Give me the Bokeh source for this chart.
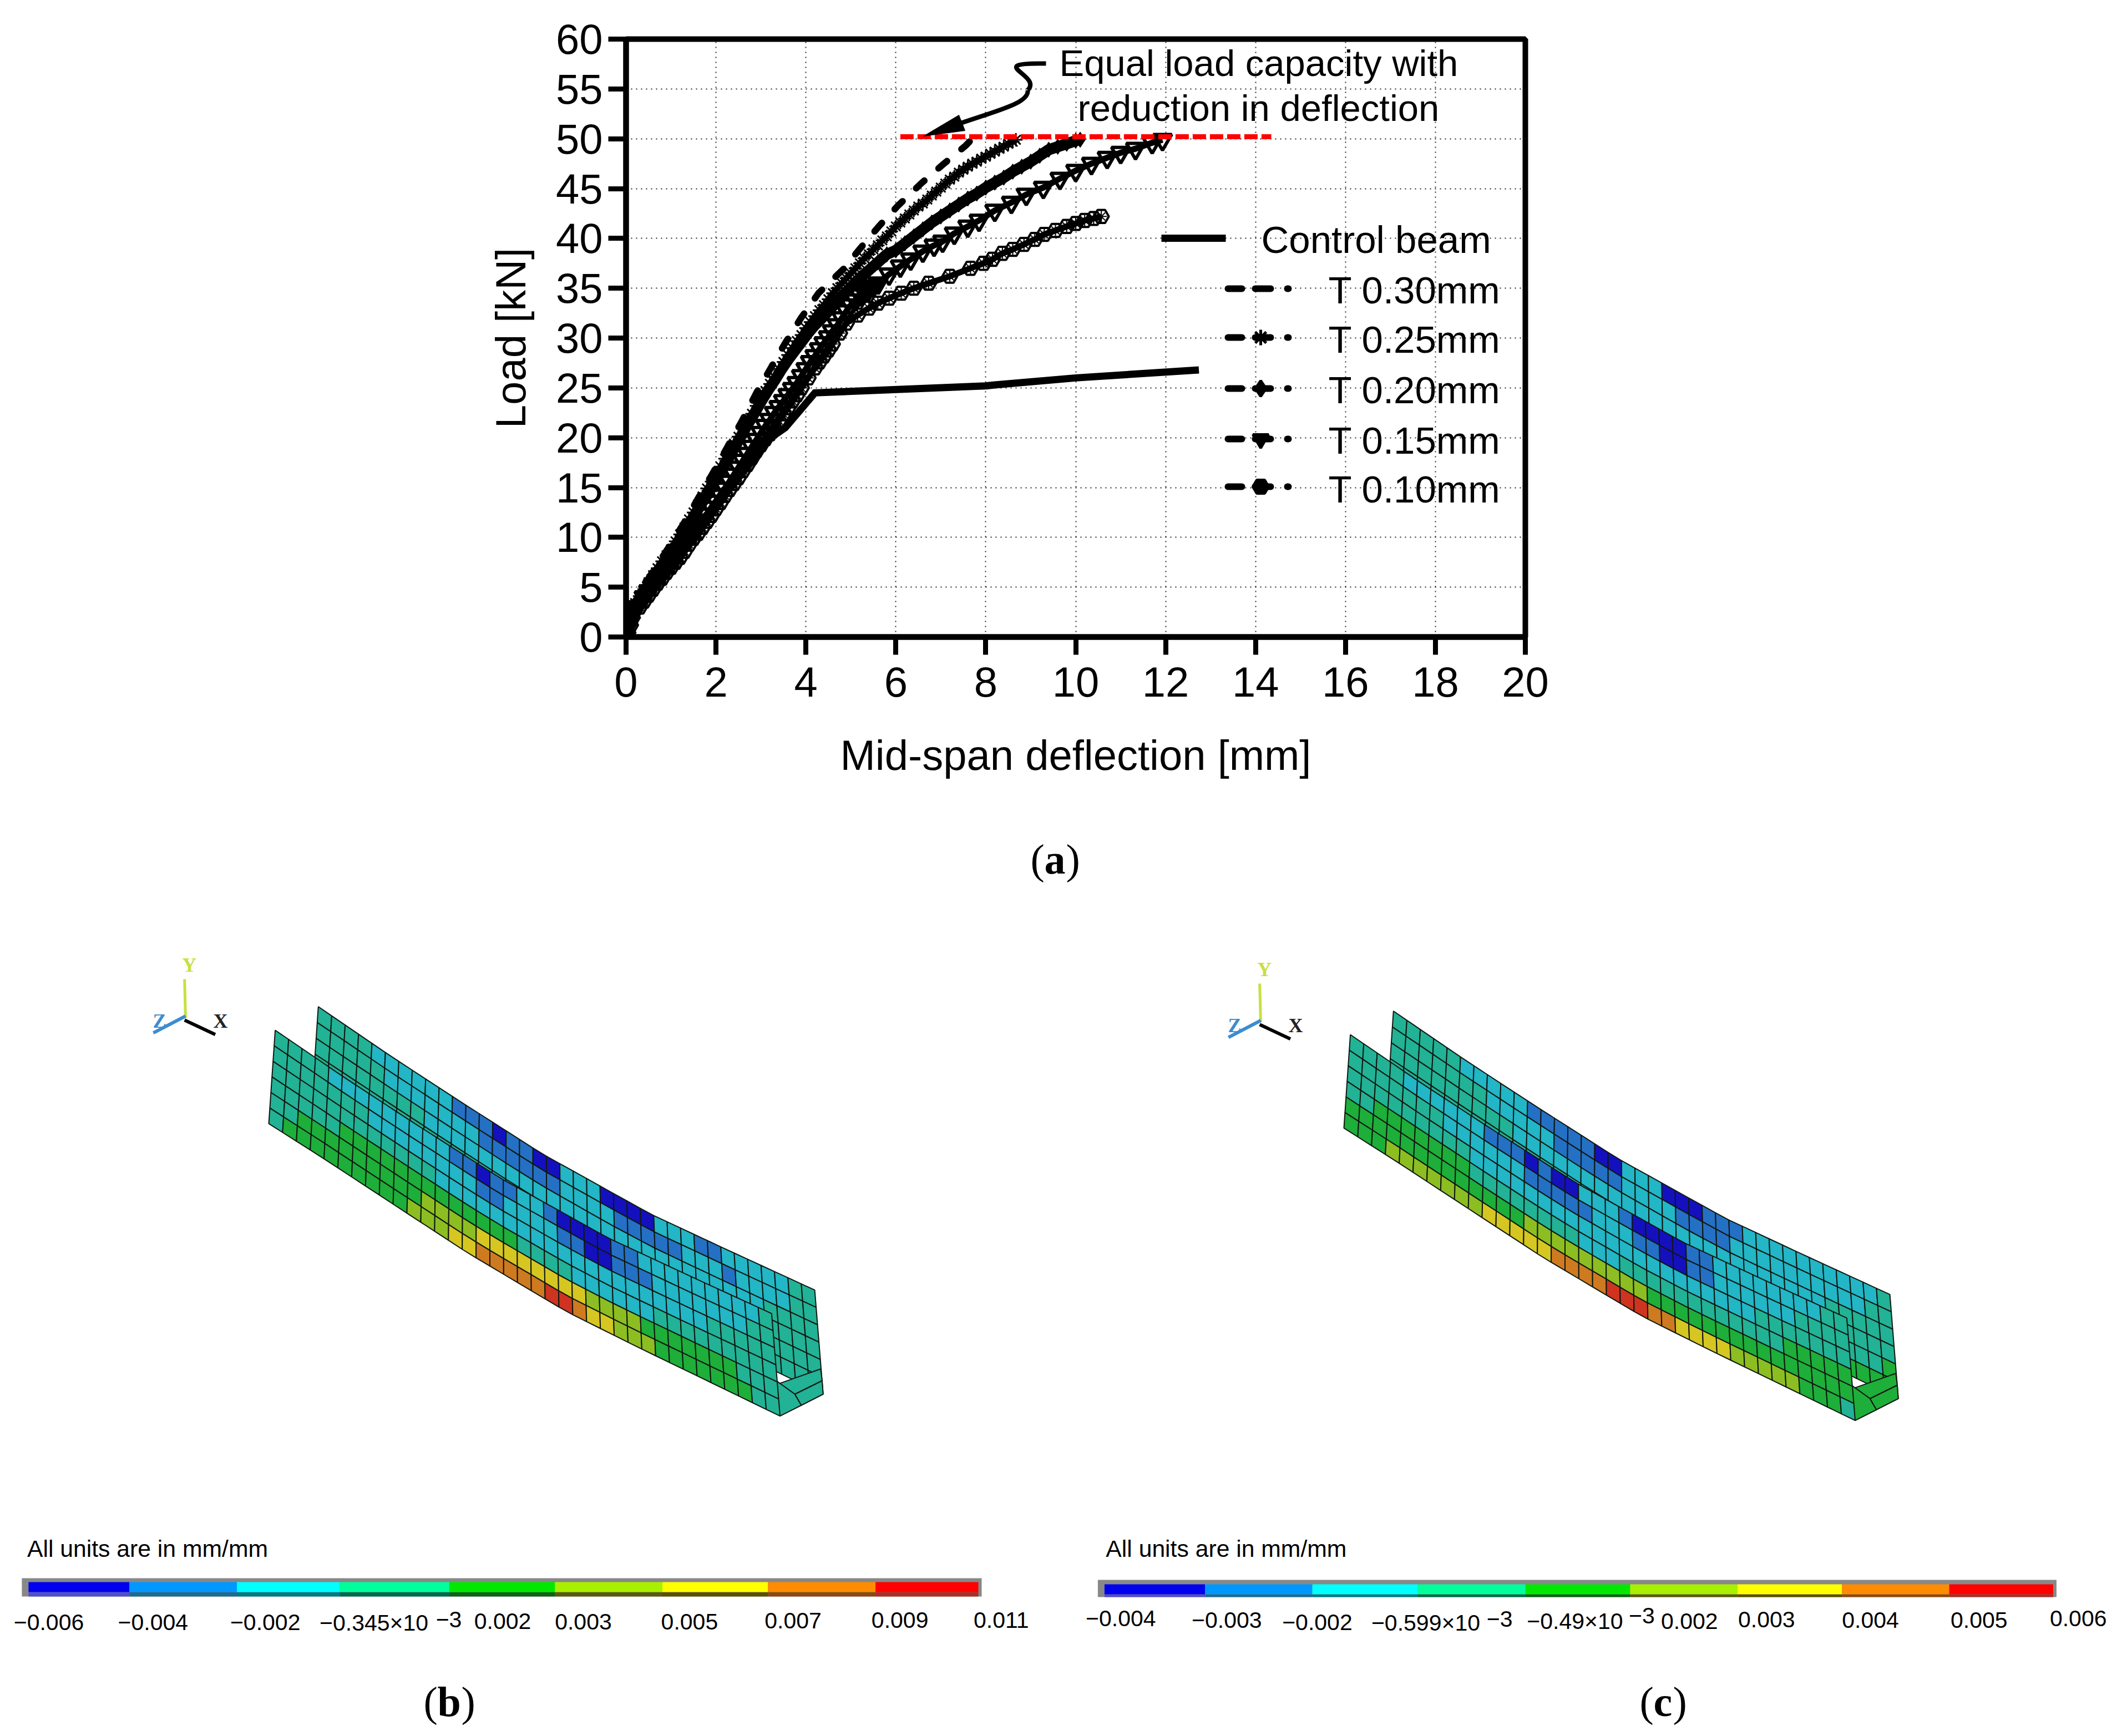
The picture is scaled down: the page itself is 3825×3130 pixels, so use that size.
from bokeh.plotting import figure
from bokeh.layouts import column
from bokeh.models import Range1d, FixedTicker
from bokeh.core.properties import value
from bokeh.embed import file_html
from bokeh.resources import INLINE
import numpy as np

# ---- panel (a) data ----
control_x = [0, .1, .3, .65, 1.35, 2.33, 3.22, 3.54, 4.2, 8.0, 8.2, 10.0, 12.74]
control_y = [0, 1.5, 3.4, 5.2, 10, 15, 20, 21, 24.5, 25.2, 25.3, 26, 26.8]

t30_x = [0, .1, .3, .92, 1.27, 1.6, 1.95, 2.27, 2.58, 2.9, 3.22, 3.54, 3.89, 4.28, 4.83, 5.19, 5.62, 6.05, 6.56, 7.07, 7.55, 7.7]
t30_y = [0, 2, 4.5, 8.8, 11.3, 13.9, 16.6, 19.2, 21.7, 24.5, 27, 29.5, 32, 34.5, 36.9, 38.9, 41.2, 43.3, 45.5, 47.5, 49.3, 50]

t25_x = [0, .05, .1, .2, .3, .4, .5, .6, .7, .8, .9, 1, 1.1, 1.2, 1.3, 1.4, 1.5, 1.6, 1.7, 1.8, 1.9, 2, 2.1, 2.2, 2.3, 2.4, 2.5, 2.6, 2.7, 2.8, 2.9, 3, 3.1, 3.2, 3.3, 3.4, 3.5, 3.6, 3.7, 3.8, 3.9, 4, 4.1, 4.2, 4.3, 4.4, 4.5, 4.6, 4.7, 4.8, 4.9, 5, 5.1, 5.2, 5.3, 5.4, 5.5, 5.6, 5.7, 5.8, 5.9, 6, 6.1, 6.2, 6.3, 6.4, 6.5, 6.6, 6.7, 6.8, 6.9, 7, 7.1, 7.2, 7.3, 7.4, 7.5, 7.6, 7.7, 7.8, 7.9, 8, 8.1, 8.2, 8.3, 8.4, 8.5, 8.6, 8.67]
t25_y = [0, 1.2, 2.2, 3.4, 4.1, 4.8, 5.5, 6.2, 6.9, 7.6, 8.2, 8.8, 9.6, 10.3, 11, 11.8, 12.5, 13.3, 14.1, 14.9, 15.6, 16.3, 17.1, 17.9, 18.6, 19.4, 20.1, 20.9, 21.7, 22.4, 23.2, 23.9, 24.7, 25.4, 26.1, 26.9, 27.6, 28.3, 29, 29.7, 30.3, 31, 31.6, 32.2, 32.8, 33.3, 33.9, 34.5, 35, 35.5, 36, 36.5, 37, 37.5, 38, 38.4, 38.9, 39.3, 39.8, 40.2, 40.7, 41.2, 41.6, 42, 42.4, 42.8, 43.2, 43.5, 43.9, 44.3, 44.7, 45.1, 45.5, 45.9, 46.2, 46.6, 46.9, 47.2, 47.5, 47.7, 48, 48.2, 48.5, 48.7, 49, 49.2, 49.5, 49.7, 49.9]

t20_x = [0, .1, .2, .35, .5, .65, .8, 1, 1.15, 1.3, 1.5, 1.65, 1.8, 2, 2.15, 2.3, 2.5, 2.7, 2.85, 3, 3.15, 3.3, 3.45, 3.6, 3.75, 3.9, 4.05, 4.2, 4.4, 4.6, 4.8, 5, 5.2, 5.4, 5.6, 5.8, 6, 6.2, 6.4, 6.6, 6.8, 7, 7.2, 7.4, 7.6, 7.8, 8, 8.2, 8.4, 8.6, 8.8, 9, 9.2, 9.4, 9.6, 9.8, 10, 10.1]
t20_y = [0, 1.8, 3.2, 4.2, 5.3, 6.3, 7.2, 8.4, 9.5, 10.7, 12, 13.2, 14.2, 15.8, 16.9, 18.1, 19.7, 21.3, 22.4, 23.6, 24.7, 25.7, 26.8, 27.8, 28.7, 29.6, 30.5, 31.3, 32.2, 33.2, 34.2, 35.1, 36, 36.8, 37.6, 38.4, 38.8, 39.5, 40.2, 40.9, 41.6, 42.2, 42.8, 43.4, 44, 44.5, 45.1, 45.6, 46.1, 46.7, 47.2, 47.7, 48.3, 48.9, 49.2, 49.5, 49.8, 49.9]

t15_x = [0, .1, .25, .4, .5, .6, .7, .8, .9, 1, 1.1, 1.2, 1.3, 1.4, 1.5, 1.6, 1.7, 1.8, 1.9, 2, 2.1, 2.2, 2.3, 2.4, 2.5, 2.6, 2.7, 2.8, 2.9, 3, 3.1, 3.2, 3.3, 3.4, 3.5, 3.6, 3.7, 3.8, 3.9, 4, 4.1, 4.2, 4.3, 4.4, 4.5, 4.59, 4.7, 4.8, 4.9, 5, 5.1, 5.2, 5.3, 5.4, 5.5, 5.61, 5.85, 6.1, 6.33, 6.6, 6.85, 7.04, 7.3, 7.6, 7.85, 8.2, 8.57, 8.9, 9.28, 9.65, 10, 10.35, 10.7, 11, 11.33, 11.7, 11.93]
t15_y = [0, 1.5, 3, 4, 4.6, 5.2, 5.8, 6.3, 6.9, 7.4, 8, 8.6, 9.3, 9.9, 10.5, 11, 11.7, 12.3, 13, 13.6, 14.2, 14.9, 15.6, 16.3, 17, 17.7, 18.4, 19.1, 19.8, 20.5, 21.2, 21.8, 22.5, 23.1, 23.7, 24.3, 24.9, 25.5, 26.2, 26.9, 27.6, 28.2, 28.9, 29.5, 30.1, 30.7, 31.3, 32, 32.7, 33.3, 33.8, 34.3, 34.6, 34.9, 35.2, 35.5, 36.4, 37.2, 37.9, 38.7, 39.3, 39.7, 40.5, 41.2, 41.8, 42.8, 43.6, 44.4, 45.1, 46, 46.8, 47.5, 48.1, 48.6, 49, 49.6, 49.9]

t10_x = [0, .1, .3, .4, .5, .6, .7, .8, .9, 1, 1.1, 1.2, 1.3, 1.4, 1.5, 1.6, 1.7, 1.8, 1.9, 2, 2.1, 2.2, 2.3, 2.4, 2.5, 2.6, 2.7, 2.8, 2.9, 3, 3.1, 3.2, 3.3, 3.4, 3.5, 3.6, 3.7, 3.8, 3.9, 4.05, 4.2, 4.3, 4.4, 4.5, 4.59, 4.75, 4.9, 5.15, 5.4, 5.6, 5.85, 6.12, 6.4, 6.73, 7.2, 7.66, 7.95, 8.15, 8.37, 8.6, 8.85, 9.09, 9.3, 9.55, 9.8, 10, 10.2, 10.4, 10.57]
t10_y = [0, 1.2, 3, 3.6, 4.2, 4.8, 5.4, 5.9, 6.5, 7, 7.5, 8, 8.6, 9.3, 9.9, 10.4, 11, 11.6, 12.2, 12.9, 13.5, 14.2, 14.8, 15.4, 16, 16.7, 17.3, 18, 18.7, 19.3, 19.9, 20.4, 21, 21.7, 22.4, 23, 23.7, 24.3, 25, 26, 27, 27.6, 28.2, 28.8, 29.4, 30.5, 31.5, 32.3, 33, 33.5, 34, 34.5, 35, 35.5, 36.2, 37, 37.5, 37.9, 38.5, 38.9, 39.4, 39.9, 40.4, 40.8, 41.2, 41.5, 41.8, 42, 42.2]

red_x = [6.1, 14.35]
red_y = [50.2, 50.2]

x_ticks = list(range(0, 21, 2))
y_ticks = list(range(0, 61, 5))
legend_names = ["T 0.30mm", "T 0.25mm", "T 0.20mm", "T 0.15mm", "T 0.10mm"]

# ---- panels (b), (c): colour bar and mesh bands ----
band_fill = ["#0000EE", "#0098FF", "#00FFFF", "#00FF9C", "#00E800", "#A8F000", "#FFFF00", "#FF8C00", "#FF0000"]
band_dark = ["#5050CC", "#1C6C90", "#007C84", "#006A4C", "#0A6414", "#5A5A10", "#5A5000", "#8A4A10", "#A83028"]
mesh_fill = ["#1410BE", "#2470C4", "#22B6C6", "#22B296", "#1EAE3A", "#8CBE22", "#D6C622", "#CE7A20", "#CE3420"]

labels_b = ["\u22120.006", "\u22120.004", "\u22120.002", "\u22120.345\u00d710", "0.002", "0.003", "0.005", "0.007", "0.009", "0.011"]
labels_b_left = [20, 175, 342, 475, 705, 825, 983, 1137, 1296, 1448]
labels_b_base = [590, 590, 592, 595, 585, 587, 587, 583, 578, 580]
edges_b = [42, 192, 352, 505, 668, 825, 985, 1142, 1302, 1455]

labels_c = ["\u22120.004", "\u22120.003", "\u22120.002", "\u22120.599\u00d710", "\u22120.49\u00d710", "0.002", "0.003", "0.004", "0.005", "0.006"]
labels_c_left = [22, 180, 315, 448, 680, 880, 995, 1150, 1312, 1460]
labels_c_base = [570, 578, 592, 595, 585, 585, 577, 580, 578, 570]
edges_c = [50, 200, 360, 517, 678, 834, 994, 1150, 1310, 1465]

back_b = [
    "3333222222" "1110110022" "2000022211" "2222233",
    "3333322222" "2211111122" "2211111222" "1222233",
    "3333333322" "2222222222" "2222222222" "2223333",
    "3333333333" "3332222222" "2222222222" "2233333",
    "3333333333" "3333333333" "3322222222" "3333333",
    "3333333333" "3333333333" "3333333333" "3333333",
]
front_b = [
    "3333222222" "2221101122" "1000011222" "2222223",
    "3333333222" "2222211222" "2110011122" "2222233",
    "3333333333" "3322222222" "2222222222" "2233333",
    "3333344444" "4444444433" "3322222233" "3333333",
    "3344444444" "4555566666" "6665555444" "4444333",
    "3444444444" "5556677777" "8876655544" "4444433",
]
back_c = [
    "3333322222" "1111100222" "0001112222" "2222223",
    "3333333222" "2211111222" "2111122222" "2222233",
    "3333333332" "2222222222" "2222222222" "2233333",
    "3333333333" "3332222222" "2222222222" "3333333",
    "3333333333" "3333333333" "3333333333" "3333334",
    "3333333333" "3333333333" "3333333333" "3334444",
]
front_c = [
    "3333222222" "1110100222" "1000011222" "2222233",
    "3333333222" "2221111122" "2110011222" "2223333",
    "3333333332" "2222222222" "2222222222" "3333333",
    "3344444443" "3333333222" "3333333333" "3344444",
    "4444444444" "4445555555" "5544444444" "4444444",
    "4445555555" "6666677778" "8877666655" "5554443",
]

# full-page pixel placement of the mesh edges (measured on the page)
back_top = [(418, 222), (560, 365), (700, 500), (870, 660), (1090, 840), (1250, 950), (1420, 1065)]
front_bot = [(318, 570), (430, 675), (580, 820), (720, 955), (920, 1130), (1070, 1240), (1350, 1440)]

W = 3809
AX_L, AX_R, AX_T, AX_B = 1128, 2749, 70, 1148
SPLIT = 1500
TOTAL = 3122
black = "#000000"
sans = value("Liberation Sans")
serif = value("Liberation Serif")
BL = 0.34   # baseline correction, in em

def dx(px):
    return (px - AX_L) * 20 / (AX_R - AX_L)

def dy(py):
    return (AX_B - py) * 60 / (AX_B - AX_T)

p = figure(width=W, height=SPLIT, x_range=Range1d(0, 20), y_range=Range1d(0, 60),
           output_backend="svg", toolbar_location=None,
           min_border_left=AX_L, min_border_right=W - AX_R,
           min_border_top=AX_T, min_border_bottom=SPLIT - AX_B)
p.frame_align = False
p.outline_line_color = black
p.outline_line_width = 10
p.background_fill_color = None
p.border_fill_color = None

for ax, ticks, label in ((p.xaxis[0], x_ticks, "Mid-span deflection [mm]"), (p.yaxis[0], y_ticks, "Load [kN]")):
    ax.ticker = FixedTicker(ticks=ticks)
    ax.minor_tick_line_color = None
    ax.major_tick_in = 0
    ax.major_tick_out = 32
    ax.major_tick_line_width = 9
    ax.major_tick_line_color = black
    ax.axis_line_width = 10
    ax.axis_line_color = black
    ax.major_label_text_font = "Liberation Sans"
    ax.major_label_text_font_size = "76px"
    ax.major_label_text_color = black
    ax.axis_label = label
    ax.axis_label_text_font = "Liberation Sans"
    ax.axis_label_text_font_size = "76px"
    ax.axis_label_text_font_style = "normal"
    ax.axis_label_text_color = black
p.xaxis[0].major_label_standoff = 22
p.yaxis[0].major_label_standoff = 10
p.xaxis[0].axis_label_standoff = 60
p.yaxis[0].axis_label_standoff = 36
p.xgrid.ticker = FixedTicker(ticks=x_ticks)
p.ygrid.ticker = FixedTicker(ticks=y_ticks)
for g in (p.xgrid[0], p.ygrid[0]):
    g.grid_line_color = "#222222"
    g.grid_line_width = 2
    g.grid_line_dash = "2 7"

p.line(control_x, control_y, line_color=black, line_width=13, line_join="miter")
p.line(t30_x, t30_y, line_color=black, line_width=12, line_dash="20 34", line_cap="round")
p.line(t25_x, t25_y, line_color=black, line_width=11)
p.scatter(t25_x, t25_y, marker="asterisk", size=24, line_color=black, line_width=3, fill_color=None)
p.line(t20_x, t20_y, line_color=black, line_width=20)
p.scatter(t20_x, t20_y, marker="diamond", size=28, line_color=black, fill_color=black)
p.line(t15_x, t15_y, line_color=black, line_width=11)
p.scatter(t15_x, t15_y, marker="inverted_triangle", size=33, line_color=black, line_width=6, fill_color=None)
p.line(t10_x, t10_y, line_color=black, line_width=11)
p.scatter(t10_x, t10_y, marker="hex", size=27, line_color=black, line_width=4, fill_color=None)
p.scatter(t10_x, t10_y, marker="asterisk", size=20, line_color=black, line_width=2, fill_color=None)
p.line(red_x, red_y, line_color="#ff0000", line_width=9, line_dash="24 7")

# curved annotation arrow
p.bezier(x0=[dx(1885)], y0=[dy(114)], x1=[dx(1852)], y1=[dy(162)],
         cx0=[dx(1770)], cy0=[dy(112)], cx1=[dx(1880)], cy1=[dy(135)], line_color=black, line_width=8)
p.bezier(x0=[dx(1852)], y0=[dy(162)], x1=[dx(1730)], y1=[dy(222)],
         cx0=[dx(1855)], cy0=[dy(185)], cx1=[dx(1800)], cy1=[dy(198)], line_color=black, line_width=8)
p.patch([dx(1664), dx(1728), dx(1739)], [dy(245), dy(207), dy(235)], fill_color=black, line_color=black)

p.text([dx(1909)], [dy(136 - BL * 67)], text=["Equal load capacity with"], text_font=sans, text_font_size="67px",
       text_baseline="alphabetic", text_color=black)
p.text([dx(1942)], [dy(217 - BL * 67)], text=["reduction in deflection"], text_font=sans, text_font_size="67px",
       text_baseline="alphabetic", text_color=black)

# legend
p.line([dx(2093), dx(2209)], [dy(429)] * 2, line_color=black, line_width=13)
p.text([dx(2273)], [dy(455 - BL * 69)], text=["Control beam"], text_font=sans, text_font_size="69px",
       text_baseline="alphabetic", text_color=black)
leg_y = [520, 608, 700, 791, 877]
leg_base = [546, 635, 726, 817, 905]
leg_marker = [None, "asterisk", "diamond", "inverted_triangle", "hex"]
for name, ly, lb, mk in zip(legend_names, leg_y, leg_base, leg_marker):
    p.line([dx(2213), dx(2238)], [dy(ly)] * 2, line_color=black, line_width=12, line_cap="round")
    p.line([dx(2262), dx(2290)], [dy(ly)] * 2, line_color=black, line_width=12, line_cap="round")
    p.line([dx(2320), dx(2322)], [dy(ly)] * 2, line_color=black, line_width=12, line_cap="round")
    if mk:
        p.scatter([dx(2272)], [dy(ly)], marker=mk, size=28, line_color=black, line_width=5, fill_color=black)
    p.text([dx(2394)], [dy(lb - BL * 69)], text=[name], text_font=sans, text_font_size="69px",
           text_baseline="alphabetic", text_color=black)

# ---- lower part: one page-coordinate figure ----
q = figure(width=W, height=TOTAL - SPLIT, x_range=Range1d(0, W), y_range=Range1d(TOTAL, SPLIT),
           output_backend="svg", toolbar_location=None, x_axis_location=None, y_axis_location=None,
           min_border=0, min_border_left=0, min_border_right=0, min_border_top=0, min_border_bottom=0)
q.frame_align = False
q.outline_line_color = None
q.grid.visible = False
q.background_fill_color = None
q.border_fill_color = None

def qtext(x, y, txt, size, font=sans, **kw):
    q.text(x, [v - BL * size for v in y], text=txt, text_font=font, text_font_size=f"{size}px",
           text_baseline="alphabetic", **kw)

BASE = {"a": 1574, "b": 3093, "c": 3093}

def caption(x, letter, w):
    qtext([x], [BASE[letter]], ["("], 76, serif, text_color=black)
    qtext([x + 25], [BASE[letter]], [letter], 76, serif, text_font_style="bold", text_color=black)
    qtext([x + 25 + w], [BASE[letter]], [")"], 76, serif, text_color=black)

caption(1857, "a", 39)
caption(763, "b", 43)
caption(2955, "c", 35)

def colorbar(edges, labels, lefts, bases, zx, zx0, y_out, y_in, sups, note_x):
    x = [zx0 + e * zx for e in edges]
    q.quad(left=[x[0] - 12], right=[x[-1] + 6], top=[y_out[0]], bottom=[y_out[1]], fill_color="#888888", line_color=None)
    q.quad(left=x[:-1], right=x[1:], top=[y_in[1]] * 9, bottom=[y_out[1]] * 9, fill_color=band_dark, line_color=None)
    q.quad(left=x[:-1], right=x[1:], top=[y_in[0]] * 9, bottom=[y_in[1]] * 9, fill_color=band_fill, line_color=None)
    qtext([zx0 + l * zx for l in lefts], [2740 + b * .336 for b in bases], labels, 41, text_color=black)
    for sx, sb in sups:
        qtext([zx0 + sx * zx], [2740 + sb * .336], ["\u22123"], 41, text_color=black)
    qtext([zx0 + note_x * zx], [2806], ["All units are in mm/mm"], 42.7, text_color=black)

colorbar(edges_b, labels_b, labels_b_left, labels_b_base, 1.2117, 0, (2845, 2878), (2852, 2870), [(648, 575)], 40)
colorbar(edges_c, labels_c, labels_c_left, labels_c_base, 1.2085, 1930, (2848, 2879), (2856, 2874), [(620, 573), (832, 555)], 52)

def web(top, bot, rows_str, ox, oy):
    cols = 37
    rows = 6
    tt = np.array(top, float)
    bb = np.array(bot, float)
    st = np.linspace(tt[0, 0], tt[-1, 0], cols + 1)
    sb = np.linspace(bb[0, 0], bb[-1, 0], cols + 1)
    ty = np.interp(st, tt[:, 0], tt[:, 1])
    by = np.interp(sb, bb[:, 0], bb[:, 1])
    xs, ys, cs = [], [], []
    for r in range(rows):
        f0, f1 = r / rows, (r + 1) / rows
        for c in range(cols):
            qx = [st[c] + (sb[c] - st[c]) * f0, st[c + 1] + (sb[c + 1] - st[c + 1]) * f0,
                  st[c + 1] + (sb[c + 1] - st[c + 1]) * f1, st[c] + (sb[c] - st[c]) * f1]
            qy = [ty[c] + (by[c] - ty[c]) * f0, ty[c + 1] + (by[c + 1] - ty[c + 1]) * f0,
                  ty[c + 1] + (by[c + 1] - ty[c + 1]) * f1, ty[c] + (by[c] - ty[c]) * f1]
            xs.append([ox + 200 + v * .893 for v in qx])
            ys.append([oy + 1680 + v * .606 for v in qy])
            cs.append(mesh_fill[int(rows_str[r][c])])
    q.patches(xs, ys, fill_color=cs, line_color="#101810", line_width=2)

end_cells_x = [[1300, 1345, 1432, 1435, 1380], [1350, 1393, 1380, 1300], [1393, 1437, 1435, 1380]]
end_cells_y = [[1290, 1345, 1300, 1335, 1375], [1440, 1408, 1375, 1290], [1408, 1375, 1335, 1375]]

def beam(back, front, ox, oy, end_color):
    back_bot = [(a + 87, b - 65) for a, b in front_bot]
    front_top = [(a - 87, b + 70) for a, b in back_top]
    web(back_top, back_bot, back, ox, oy)
    q.patches([[ox + 200 + v * .893 for v in cx] for cx in end_cells_x],
              [[oy + 1680 + v * .606 for v in cy] for cy in end_cells_y],
              fill_color=end_color, line_color="#101810", line_width=2)
    web(front_top, front_bot, front, ox, oy)
    tx = lambda v: ox + 200 + v * .893
    ty = lambda v: oy + 1680 + v * .606
    q.line([tx(148), tx(150)], [ty(140), ty(255)], line_color="#C8E040", line_width=5)
    q.line([tx(150), tx(85)], [ty(250), ty(300)], line_color="#3C8CD0", line_width=6)
    q.line([tx(148), tx(210)], [ty(262), ty(305)], line_color="#000000", line_width=6)
    for label, lx, ly, col in (("Y", 143, 118, "#C8E040"), ("Z", 84, 285, "#3C8CD0"), ("X", 206, 285, "#222222")):
        qtext([tx(lx)], [ty(ly)], [label], 36, serif, text_font_style="bold", text_color=col)

beam(back_b, front_b, 0, 0, mesh_fill[3])
beam(back_c, front_c, 1938, 8, mesh_fill[4])

page = column(p, q, spacing=0)
open("out.html", "w").write(file_html(page, INLINE))
